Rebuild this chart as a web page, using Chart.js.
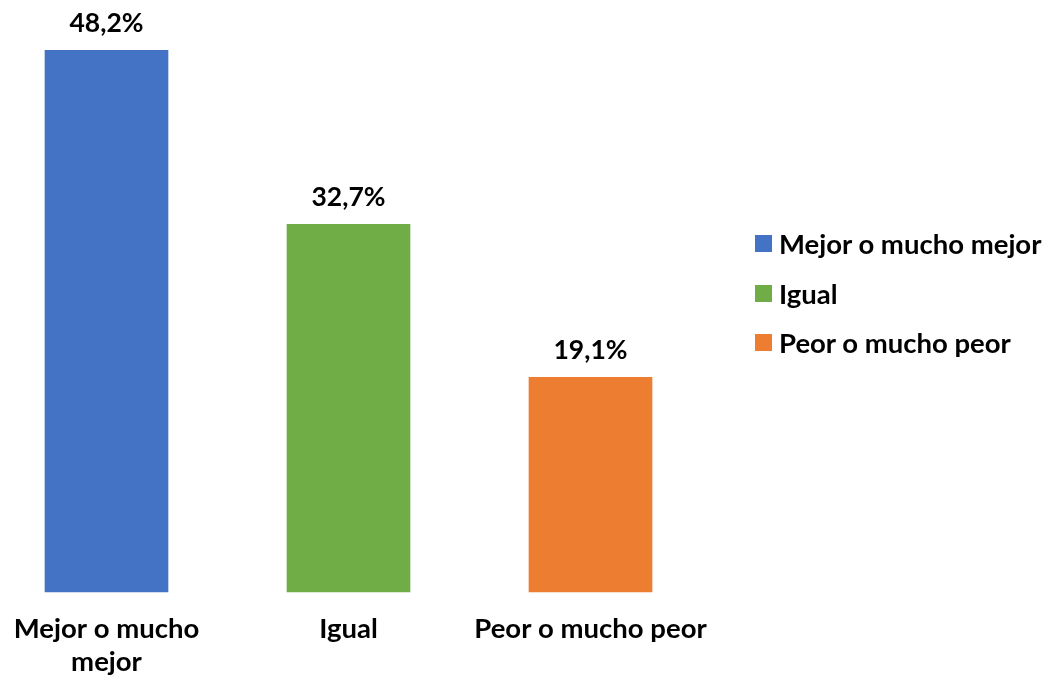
<!DOCTYPE html>
<html lang="es">
<head>
<meta charset="UTF-8">
<title>Situación comparada</title>
<script src="https://cdn.jsdelivr.net/npm/chart.js"></script>
<style>
  body { margin: 0; background: #fff; }
  #caja { position: relative; width: 1048px; height: 677px; }
  #grafico { display: block; }
  #leyenda { position: absolute; left: 755px; top: 219px; font: bold 27.5px Lato, sans-serif; color: #000; }
  .item { display: flex; align-items: center; height: 49.5px; white-space: nowrap; }
  .cuadro { width: 17px; height: 17px; margin-right: 7px; }
</style>
</head>
<body>
<div id="caja">
  <canvas id="grafico" width="1048" height="677"></canvas>
  <div id="leyenda"></div>
</div>
<script>
  // datos del grafico
  const categorias = ["Mejor o mucho mejor", "Igual", "Peor o mucho peor"];
  const etiquetas = [["Mejor o mucho", "mejor"], "Igual", "Peor o mucho peor"];
  const porcentajes = [48.2, 32.7, 19.1];

  const colores = ["#4472C4", "#70AD47", "#ED7D31"];
  const fuente = "Lato";

  // etiquetas de valor encima de cada barra
  const etiquetasDatos = {
    id: "etiquetasDatos",
    afterDatasetsDraw(chart) {
      const ctx = chart.ctx;
      const barras = chart.getDatasetMeta(0).data;
      ctx.save();
      ctx.font = "bold 26.5px " + fuente;
      ctx.fillStyle = "#000";
      ctx.textAlign = "center";
      ctx.textBaseline = "alphabetic";
      barras.forEach(function (barra, i) {
        ctx.fillText(porcentajes[i].toFixed(1).replace(".", ",") + "%", barra.x, barra.y - 18);
      });
      ctx.restore();
    }
  };

  new Chart(document.getElementById("grafico"), {
    type: "bar",
    data: {
      labels: etiquetas,
      datasets: [
        {
          data: porcentajes,
          backgroundColor: colores,
          barThickness: 123,
          clip: false
        }
      ]
    },
    options: {
      responsive: false,
      animation: false,
      layout: { padding: { top: 30, left: 106.5, right: 457.5, bottom: 0 } },
      plugins: {
        legend: { display: false },
        tooltip: { enabled: false }
      },
      scales: {
        x: {
          offset: false,
          grid: { display: false, drawTicks: false },
          border: { display: false },
          ticks: {
            padding: 21,
            color: "#000",
            autoSkip: false,
            maxRotation: 0,
            minRotation: 0,
            font: { family: fuente, weight: "bold", size: 27.5, lineHeight: 1.2 }
          },
          // el eje no empuja el area del grafico
          afterFit: function (escala) {
            escala.paddingLeft = 0;
            escala.paddingRight = 0;
            escala.height = 85;
          }
        },
        y: { display: false, min: 0, max: 50 }
      }
    },
    plugins: [etiquetasDatos]
  });

  // leyenda en html
  const leyenda = document.getElementById("leyenda");
  categorias.forEach(function (nombre, i) {
    const item = document.createElement("div");
    item.className = "item";
    const cuadro = document.createElement("span");
    cuadro.className = "cuadro";
    cuadro.style.background = colores[i];
    const texto = document.createElement("span");
    texto.textContent = nombre;
    item.appendChild(cuadro);
    item.appendChild(texto);
    leyenda.appendChild(item);
  });
</script>
</body>
</html>
